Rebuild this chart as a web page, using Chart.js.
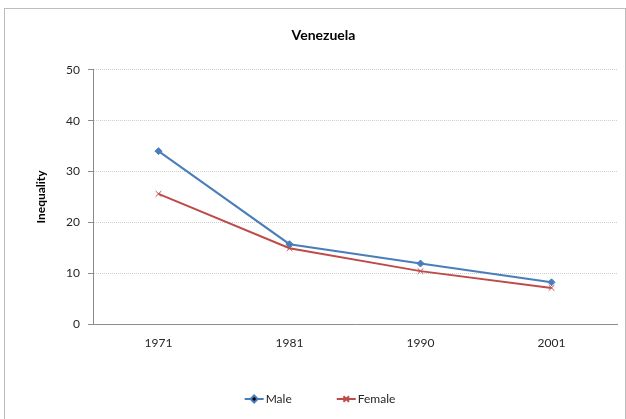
<!DOCTYPE html>
<html>
<head>
<meta charset="utf-8">
<title>Venezuela</title>
<script src="https://cdn.jsdelivr.net/npm/chart.js@4/dist/chart.umd.min.js"></script>
<style>
  html, body { margin: 0; padding: 0; background: #fff; }
  #wrap { position: relative; width: 626px; height: 419px; }
</style>
</head>
<body>
<div id="wrap"><canvas id="c" width="626" height="419"></canvas></div>
<script>
// Census years and inequality index by sex
const years = ['1971', '1981', '1990', '2001'];
const male = [34.0, 15.7, 11.9, 8.2];
const female = [25.6, 14.9, 10.4, 7.1];
const yTicks = [0, 10, 20, 30, 40, 50];

const FONT = 'Lato, "Open Sans", "Liberation Sans", sans-serif';
const TEXT = '#262626';

// Outer frame of the chart object
const framePlugin = {
  id: 'frame',
  beforeDraw(chart) {
    const ctx = chart.ctx;
    ctx.save();
    ctx.fillStyle = '#ffffff';
    ctx.fillRect(0, 0, chart.width, chart.height);
    ctx.strokeStyle = '#bdbdbd';
    ctx.lineWidth = 1;
    ctx.strokeRect(4.5, 8.5, 621, 600);
    ctx.restore();
  }
};

// Bottom legend: line sample with the series marker, then the label
const lineLegend = {
  id: 'lineLegend',
  afterDraw(chart, args, opts) {
    const ctx = chart.ctx;
    const sets = chart.data.datasets;
    ctx.save();
    ctx.font = '12px ' + FONT;
    ctx.textBaseline = 'middle';
    const items = sets.map(ds => ({ ds, w: opts.lineLen + opts.textGap + ctx.measureText(ds.label).width }));
    const total = items.reduce((s, it) => s + it.w, 0) + opts.itemGap * (items.length - 1);
    let x = opts.centerX - total / 2;
    const y = opts.y;
    items.forEach(it => {
      const ds = it.ds;
      ctx.strokeStyle = ds.borderColor;
      ctx.lineWidth = 2;
      ctx.beginPath();
      ctx.moveTo(x, y);
      ctx.lineTo(x + opts.lineLen, y);
      ctx.stroke();
      Chart.helpers.drawPoint(ctx, {
        pointStyle: ds.pointStyle,
        radius: ds.pointRadius,
        borderWidth: ds.pointBorderWidth,
        rotation: 0
      }, x + opts.lineLen / 2, y);
      ctx.fillStyle = TEXT;
      ctx.textAlign = 'left';
      ctx.fillText(ds.label, x + opts.lineLen + opts.textGap, y);
      x += it.w + opts.itemGap;
    });
    ctx.restore();
  }
};

const chart = new Chart(document.getElementById('c'), {
  type: 'line',
  data: {
    labels: years,
    datasets: [
      {
        label: 'Male',
        data: male,
        borderColor: '#4A7EBB',
        backgroundColor: '#4A7EBB',
        pointBackgroundColor: '#4A7EBB',
        pointBorderColor: '#4A7EBB',
        borderWidth: 2,
        pointStyle: 'rectRot',
        pointRadius: 3.5,
        pointBorderWidth: 1,
        tension: 0
      },
      {
        label: 'Female',
        data: female,
        borderColor: '#BE4B48',
        backgroundColor: '#BE4B48',
        pointBackgroundColor: '#BE4B48',
        pointBorderColor: '#BE4B48',
        borderWidth: 2,
        pointStyle: 'crossRot',
        pointRadius: 4,
        pointBorderWidth: 1,
        tension: 0
      }
    ]
  },
  options: {
    responsive: false,
    animation: false,
    layout: { padding: { left: 30, right: 9, top: 0, bottom: 65 } },
    plugins: {
      legend: { display: false },
      tooltip: { enabled: false },
      title: {
        display: true,
        text: 'Venezuela',
        color: '#000',
        font: { family: FONT, size: 14, weight: 'bold' },
        padding: { top: 27, bottom: 26 }
      },
      lineLegend: { centerX: 320, y: 399, lineLen: 19, textGap: 2, itemGap: 45 }
    },
    scales: {
      x: {
        type: 'category',
        offset: true,
        grid: { display: false, drawTicks: false },
        border: { display: true, color: '#8c8c8c', width: 1 },
        ticks: { color: TEXT, font: { family: FONT, size: 12 }, padding: 12, maxRotation: 0 },
        afterFit(scale) { scale.height = 30; }
      },
      y: {
        min: 0,
        max: 50,
        afterBuildTicks(scale) { scale.ticks = yTicks.map(v => ({ value: v })); },
        grid: {
          color: '#cfcfcf',
          tickColor: '#8c8c8c',
          tickLength: 5,
          lineWidth: 1
        },
        border: { display: true, color: '#8c8c8c', width: 1, dash: [1, 1] },
        ticks: { color: TEXT, font: { family: FONT, size: 12 }, padding: 8 },
        title: {
          display: true,
          text: 'Inequality',
          color: '#000',
          font: { family: FONT, size: 12, weight: 'bold' },
          padding: { top: 4, bottom: 0 }
        },
        afterFit(scale) { scale.width = 63; }
      }
    }
  },
  plugins: [framePlugin, lineLegend]
});
</script>
</body>
</html>
